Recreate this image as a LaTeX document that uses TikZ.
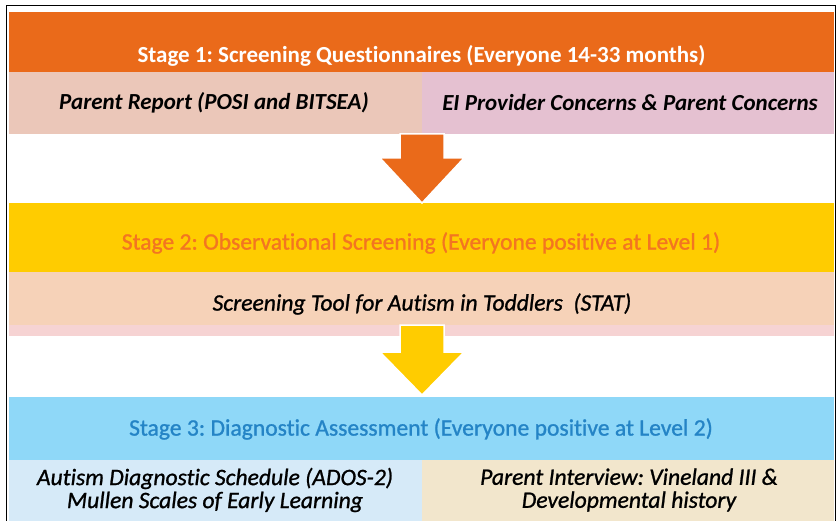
\documentclass[tikz,border=0pt]{standalone}
\usepackage{fontspec}
\setmainfont{Carlito}[Ligatures=NoCommon]
\newfontfamily\heavyfont{Carlito}[Ligatures=NoCommon, FakeBold=1]
\usepackage{xcolor}
\usetikzlibrary{positioning}
\frenchspacing

\definecolor{stageorange}{HTML}{EA6A1A}
\definecolor{reportpeach}{HTML}{EBC7B9}
\definecolor{concernpink}{HTML}{E5C1D1}
\definecolor{stageyellow}{HTML}{FFCC00}
\definecolor{yellowtext}{HTML}{F37521}
\definecolor{statpeach}{HTML}{F6D2B8}
\definecolor{statstrip}{HTML}{F6D3D3}
\definecolor{stageblue}{HTML}{8FD8F8}
\definecolor{bluetext}{HTML}{2484C6}
\definecolor{adosblue}{HTML}{D6EAF8}
\definecolor{interviewbeige}{HTML}{F2E6CC}

\begin{document}
\begin{tikzpicture}[x=1pt, y=1pt,
    band/.style={rectangle, inner sep=0pt, minimum width=825pt, anchor=north west},
    half/.style={rectangle, inner sep=0pt, minimum width=412.5pt, anchor=north west},
    title/.style={font=\heavyfont\fontsize{23.6}{26}\selectfont},
    item/.style={font=\heavyfont\fontsize{23.6}{23}\selectfont\itshape, align=center},
    blockarrow/.style={draw=white, line width=1.5pt, line join=miter}
]

    \useasboundingbox (0,0) rectangle (837,520);

    % Stage 1 band and its two sources
    \node[band, fill=stageorange, minimum height=60pt] (stage1) at (9,508) {};
    \node[half, fill=reportpeach, minimum height=62pt] (report) at (9,448) {};
    \node[half, fill=concernpink, minimum height=62pt] (concern) at (421.5,448) {};

    % Stage 2 band, STAT row and thin strip below it
    \node[band, fill=stageyellow, minimum height=69pt] (stage2) at (9,317) {};
    \node[band, fill=statpeach, minimum height=53pt] (stat) at (9,248) {};
    \node[band, fill=statstrip, minimum height=11pt] (strip) at (9,195) {};

    % Stage 3 band and its two tools
    \node[band, fill=stageblue, minimum height=63pt] (stage3) at (9,123) {};
    \node[half, fill=adosblue, minimum height=66pt] (ados) at (9,60) {};
    \node[half, fill=interviewbeige, minimum height=66pt] (interview) at (421.5,60) {};

    % Down arrows between the stages
    \coordinate (a1top) at (422,386);
    \coordinate (a1tip) at (422,317);
    \filldraw[blockarrow, fill=stageorange] (a1top) ++(-22,0) -- ++(0,-24) -- ++(-20,0)
        -- (a1tip) -- ++(42,45) -- ++(-20,0) -- ++(0,24) -- cycle;

    \coordinate (a2top) at (422,195);
    \coordinate (a2tip) at (422,125);
    \filldraw[blockarrow, fill=stageyellow] (a2top) ++(-22,0) -- ++(0,-27) -- ++(-20,0)
        -- (a2tip) -- ++(42,43) -- ++(-20,0) -- ++(0,27) -- cycle;

    % Titles
    \node[title, font=\rmfamily\fontsize{23}{26}\selectfont\bfseries, text=white] (title1) at (421.5,464)
        {Stage 1: Screening Questionnaires (Everyone 14-33 months)};
    \node[title, text=yellowtext] (title2) at (421,277)
        {Stage 2: Observational Screening (Everyone positive at Level 1)};
    \node[title, text=bluetext] (title3) at (421,91)
        {Stage 3: Diagnostic Assessment (Everyone positive at Level 2)};

    % Tools in each stage
    \node[item, font=\rmfamily\fontsize{23}{23}\selectfont\bfseries\itshape] (reporttext) at (214,417)
        {Parent Report (POSI and BITSEA)};
    \node[item, font=\rmfamily\fontsize{23}{23}\selectfont\bfseries\itshape] (concerntext) at (630,417)
        {EI Provider Concerns \& Parent Concerns};
    \node[item] (stattext) at (422,216) {Screening Tool for Autism in Toddlers~~(STAT)};
    \node[item] (adostext) at (215,30)
        {Autism Diagnostic Schedule (ADOS-2)\\Mullen Scales of Early Learning};
    \node[item] (interviewtext) at (629,30)
        {Parent Interview: Vineland III \&\\Developmental history};

    % Outer frame
    \draw[line width=1.5pt] (6.5,-5) rectangle (835.5,514.5);

\end{tikzpicture}
\end{document}
